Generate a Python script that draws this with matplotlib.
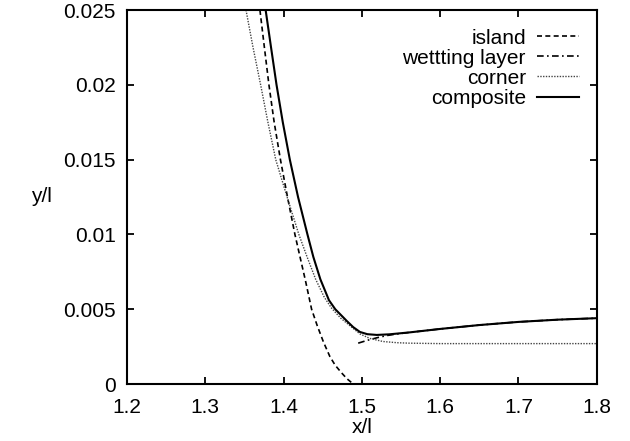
import matplotlib
matplotlib.use("Agg")
import matplotlib.pyplot as plt
from matplotlib.ticker import FuncFormatter

plt.rcParams['font.family'] = ['Liberation Sans', 'DejaVu Sans']

# composite (solid)
comp_x = [1.3771, 1.384, 1.391, 1.399, 1.408, 1.4185, 1.4305, 1.438, 1.447, 1.458,
          1.466, 1.4735, 1.481, 1.489, 1.4975, 1.507, 1.519, 1.535, 1.561, 1.60,
          1.65, 1.70, 1.75, 1.80]
comp_y = [0.025, 0.0225, 0.020, 0.0175, 0.015, 0.0125, 0.010, 0.0085, 0.007, 0.0056,
          0.0050, 0.0046, 0.0042, 0.0038, 0.00348, 0.00333, 0.00328, 0.00332, 0.00345, 0.00368,
          0.00394, 0.00415, 0.0043, 0.0044]

# corner (dotted)
corner_x = [1.352, 1.361, 1.3707, 1.380, 1.390, 1.4045, 1.4195, 1.430, 1.441, 1.452,
            1.4613, 1.473, 1.4847, 1.4975, 1.51, 1.527, 1.545, 1.56, 1.60, 1.80]
corner_y = [0.025, 0.0225, 0.020, 0.0175, 0.015, 0.0125, 0.010, 0.0085, 0.007, 0.0058,
            0.00507, 0.0044, 0.0039, 0.00335, 0.00305, 0.00284, 0.00276, 0.00273, 0.0027, 0.0027]

# island (dashed)
island_x = [1.3698, 1.3755, 1.3813, 1.388, 1.396, 1.405, 1.4145, 1.421, 1.428, 1.4358,
            1.443, 1.451, 1.4592, 1.466, 1.474, 1.481, 1.489]
island_y = [0.025, 0.0225, 0.020, 0.0175, 0.015, 0.0125, 0.010, 0.0085, 0.0069, 0.0050,
            0.0039, 0.0028, 0.00183, 0.00125, 0.00075, 0.00035, 0.0]

# wetting layer (dash-dot)
wet_x = [1.4953, 1.507, 1.52, 1.532, 1.544, 1.561, 1.60, 1.65, 1.70, 1.75, 1.80]
wet_y = [0.00273, 0.00292, 0.0031, 0.00324, 0.00334, 0.00345, 0.00368, 0.00394, 0.00415, 0.0043, 0.0044]

x_ticks = [1.2, 1.3, 1.4, 1.5, 1.6, 1.7, 1.8]
y_ticks = [0, 0.005, 0.01, 0.015, 0.02, 0.025]

FS = 15

fig = plt.figure(figsize=(6.3, 4.41), dpi=100)
ax = fig.add_axes([127/630, 1-384/441, (596.7-127)/630, (384-10)/441])

ax.plot(island_x, island_y, color='black', lw=1.2, dashes=(3, 2), label='island')
ax.plot(wet_x, wet_y, color='black', lw=1.2, dashes=(4, 2, 1, 2), label='wettting layer')
ax.plot(corner_x, corner_y, color='#444444', lw=1.0, dashes=(1, 1), label='corner')
ax.plot(comp_x, comp_y, color='black', lw=1.5, label='composite')

ax.set_xlim(1.2, 1.8)
ax.set_ylim(0, 0.025)
ax.set_xticks(x_ticks)
ax.set_yticks(y_ticks)
fmt = FuncFormatter(lambda v, p: f"{v:g}")
ax.xaxis.set_major_formatter(fmt)
ax.yaxis.set_major_formatter(fmt)
ax.tick_params(direction='in', length=5, width=1.3, top=True, right=True,
               labelsize=FS, pad=8, colors='black')
ax.tick_params(axis='x', pad=10)
for s in ax.spines.values():
    s.set_linewidth(1.5)

ax.set_xlabel('x/l', fontsize=FS, labelpad=1)
ax.set_ylabel('y/l', fontsize=FS, rotation=0, labelpad=16, va='center')

leg = ax.legend(loc='upper right', bbox_to_anchor=(0.9623, 0.950), frameon=False,
                markerfirst=False, fontsize=FS, handlelength=2.0,
                handletextpad=0.55, labelspacing=0.05, borderpad=0, borderaxespad=0)

fig.savefig('out.png', dpi=100)
